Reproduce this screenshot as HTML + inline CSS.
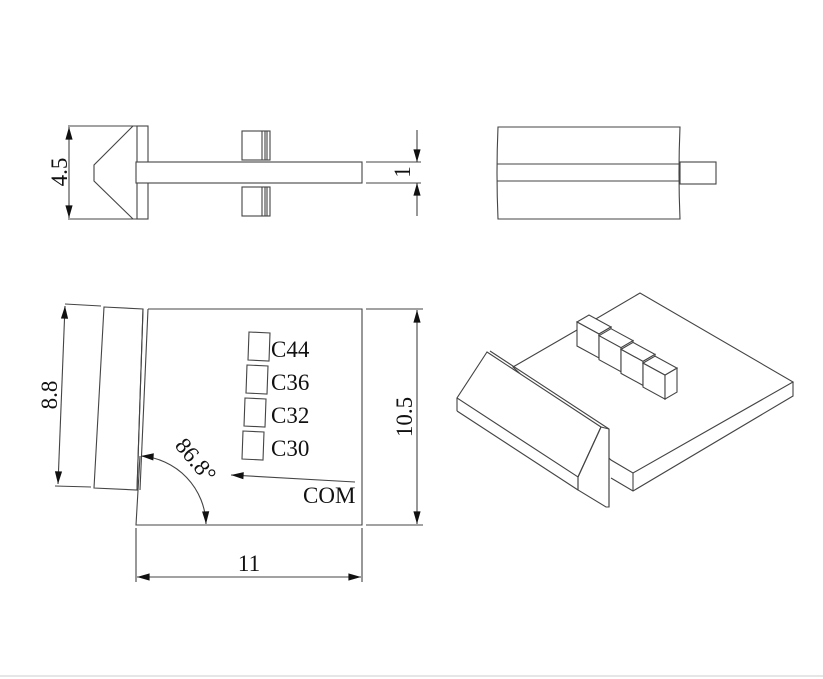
<!DOCTYPE html>
<html><head><style>
html,body{margin:0;padding:0;background:#fff;}
svg{display:block;}
text{font-family:"Liberation Serif",serif;fill:#111;}
</style></head><body>
<svg width="823" height="679" viewBox="0 0 823 679" xmlns="http://www.w3.org/2000/svg">
<defs>
<marker id="a" viewBox="0 0 14 10" refX="14" refY="5" markerWidth="14" markerHeight="9" orient="auto-start-reverse" markerUnits="userSpaceOnUse"><path d="M0,1 L14,5 L0,9 z" fill="#111"/></marker>
</defs>
<g fill="none" stroke="#444" stroke-width="1.1">
<!-- top-left view -->
<line x1="68" y1="126" x2="148" y2="126"/><line x1="68" y1="219" x2="148" y2="219"/>
<rect x="137" y="126" width="11" height="93"/>
<polyline points="133,126 94,165 94,181 133,219"/>
<line x1="69" y1="127" x2="69" y2="218" marker-start="url(#a)" marker-end="url(#a)"/>
<rect x="136" y="162" width="226" height="21" fill="#fff"/>
<rect x="242" y="131" width="28" height="29"/>
<line x1="262" y1="131" x2="262" y2="160"/><line x1="265" y1="131" x2="265" y2="160"/><line x1="267" y1="131" x2="267" y2="160"/>
<rect x="242" y="187" width="28" height="29"/>
<line x1="262" y1="187" x2="262" y2="216"/><line x1="265" y1="187" x2="265" y2="216"/><line x1="267" y1="187" x2="267" y2="216"/>
<line x1="366" y1="162" x2="421" y2="162"/><line x1="366" y1="183" x2="421" y2="183"/>
<line x1="417" y1="130" x2="417" y2="162" marker-end="url(#a)"/>
<line x1="417" y1="216" x2="417" y2="183" marker-end="url(#a)"/>
<!-- top-right view -->
<path d="M498,127 L680,127 Q678,173 680,219 L498,219 Q496,173 498,127 Z"/>
<line x1="497" y1="164" x2="680" y2="164"/><line x1="497" y1="181" x2="680" y2="181"/>
<rect x="680" y="162" width="36" height="22"/>
<!-- bottom-left view -->
<polyline points="148,309 362,309 362,525 136,525 140,456"/>
<line x1="143" y1="309" x2="137" y2="490"/>
<line x1="148" y1="309" x2="140" y2="490"/>
<polygon points="104,307 143,309 137,490 94,488"/>
<line x1="65" y1="304" x2="101" y2="306"/><line x1="55" y1="486" x2="91" y2="487"/>
<line x1="65" y1="306" x2="58" y2="484" marker-start="url(#a)" marker-end="url(#a)"/>
<line x1="366" y1="309" x2="423" y2="309"/><line x1="366" y1="525" x2="423" y2="525"/>
<line x1="417" y1="310" x2="417" y2="524" marker-start="url(#a)" marker-end="url(#a)"/>
<line x1="136" y1="528" x2="136" y2="582"/><line x1="362" y1="528" x2="362" y2="582"/>
<line x1="137" y1="577" x2="361" y2="577" marker-start="url(#a)" marker-end="url(#a)"/>
<polygon points="249,332 270,333 269,361 248,360"/>
<polygon points="247,365 268,366 267,394 246,393"/>
<polygon points="245,398 266,399 265,427 244,426"/>
<polygon points="243,431 264,432 263,460 242,459"/>
<path d="M141,456 A70,70 0 0 1 206,524" marker-start="url(#a)" marker-end="url(#a)"/>
<line x1="355" y1="482" x2="231" y2="475" marker-end="url(#a)"/>
<!-- iso view -->
<polygon points="577,330 640,293 793,382 633,473 611,460 513,367" fill="#fff"/>
<polyline points="793,382 793,396 633,491 611,478"/>
<line x1="633" y1="473" x2="633" y2="491"/>
<polygon points="487,352 601,427 578,477 457,398" fill="#fff"/>
<line x1="490" y1="351" x2="609" y2="429"/>
<line x1="457" y1="398" x2="457" y2="411"/><line x1="457" y1="411" x2="578" y2="490"/>
<polygon points="578,477 601,427 609,429 609,507 606,507 578,490" fill="#fff"/>
<line x1="601" y1="427" x2="578" y2="477"/><line x1="578" y1="477" x2="578" y2="490"/>
<line x1="609" y1="429" x2="609" y2="507"/>
<g id="c1"><polygon points="577,322 589,315 611,327 599,334" fill="#fff"/><polygon points="577,322 599,334 599,358 577,346" fill="#fff"/><polygon points="599,334 611,327 611,351 599,358" fill="#fff"/></g>
<use href="#c1" transform="translate(22,13.7)"/>
<use href="#c1" transform="translate(44,27.4)"/>
<use href="#c1" transform="translate(66,41.1)"/>
</g>
<line x1="0" y1="676" x2="823" y2="676" stroke="#e6e6e6" stroke-width="2"/>
<g font-size="23">
<text transform="translate(67,172) rotate(-90)" text-anchor="middle">4.5</text>
<text transform="translate(410,172) rotate(-90)" text-anchor="middle">1</text>
<text transform="translate(57,395) rotate(-90)" text-anchor="middle">8.8</text>
<text transform="translate(412,417) rotate(-90)" text-anchor="middle">10.5</text>
<text x="249" y="571" text-anchor="middle">11</text>
<text x="271" y="357">C44</text>
<text x="271" y="390">C36</text>
<text x="271" y="423">C32</text>
<text x="271" y="456">C30</text>
<text x="303" y="503">COM</text>
<text transform="translate(174,446) rotate(50)">86.8°</text>
</g>
</svg>
</body></html>
